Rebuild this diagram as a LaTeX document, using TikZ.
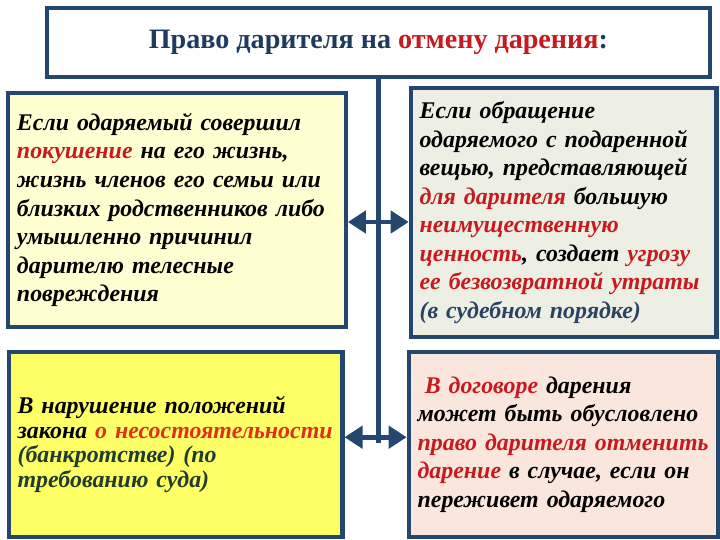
\documentclass[tikz,border=0pt]{standalone}
\usepackage{fontspec}
\setmainfont{Liberation Serif}
\usetikzlibrary{arrows.meta,positioning}
\definecolor{dgBorder}{HTML}{24476F}
\definecolor{dgTitle}{HTML}{1F3A5F}
\definecolor{dgRed}{HTML}{C8191E}
\definecolor{dgOrange}{HTML}{E0301A}
\definecolor{dgBlue}{HTML}{2A4365}
\definecolor{dgGreen}{HTML}{1F3D2C}
\definecolor{dgPale}{HTML}{FFFFD2}
\definecolor{dgGrey}{HTML}{EEEFE4}
\definecolor{dgYellow}{HTML}{FFFF66}
\definecolor{dgPink}{HTML}{FBE6DD}
\newcommand{\redword}[1]{\textcolor{dgRed}{#1}}

\begin{document}
\begin{tikzpicture}[
        box/.style={
            draw=dgBorder,
            line width=3pt,
            align=left,
            inner sep=0.22cm,
            font=\fontsize{17}{20.3}\selectfont\bfseries\itshape
        },
        titlebox/.style={
            draw=dgBorder,
            line width=3pt,
            fill=white,
            minimum width=16.58cm,
            minimum height=1.73cm,
            text=dgTitle,
            font=\fontsize{20}{24}\selectfont\bfseries
        },
        arrow/.style={
            -{Triangle[length=0.45cm,width=0.55cm]},
            line width=3.5pt,
            draw=dgBorder
        },
        trunk/.style={
            line width=3.5pt,
            draw=dgBorder
        }
    ]
    \useasboundingbox (0,0) rectangle (18,-13.5);

    \node[titlebox] (titel) at (9.46,-1.06) {Право дарителя на \redword{отмену дарения}:};

    \node[box, fill=dgPale, minimum height=5.85cm, text width=8.0cm] (lefttop) at (4.425,-5.25)
        {Если одаряемый совершил\\
         \redword{покушение} на его жизнь,\\
         жизнь членов его семьи или\\
         близких родственников либо\\
         умышленно причинил\\
         дарителю телесные\\
         повреждения};

    \node[box, fill=dgGrey, minimum height=6.23cm, text width=7.2cm] (righttop) at (14.09,-5.31)
        {Если обращение\\
         одаряемого с подаренной\\
         вещью, представляющей\\
         \redword{для дарителя} большую\\
         \redword{неимущественную}\\
         \redword{ценность}, создает \redword{угрозу}\\
         \redword{ее безвозвратной утраты}\\
         \textcolor{dgBlue}{(в судебном порядке)}};

    \node[box, fill=dgYellow, minimum height=4.63cm, text width=7.9cm,
          font=\fontsize{17}{17.4}\selectfont\bfseries\itshape] (leftbot) at (4.39,-11.11)
        {В нарушение положений\\
         закона \textcolor{dgOrange}{о несостоятельности}\\
         \textcolor{dgGreen}{(банкротстве) (по}\\
         \textcolor{dgGreen}{требованию суда)}};

    \node[box, fill=dgPink, minimum height=4.63cm, text width=7.3cm] (rightbot) at (14.09,-11.11)
        {\hspace{0.3em}\redword{В договоре} дарения\\
         может быть обусловлено\\
         \redword{право дарителя отменить}\\
         \redword{дарение} в случае, если он\\
         переживет одаряемого};

    \coordinate (jtop) at (titel.south |- 0,-5.55);
    \coordinate (jbot) at (titel.south |- 0,-10.93);
    \coordinate (tend) at (titel.south |- 0,-11.08);

    \draw[trunk] (titel.south) -- (tend);
    \draw[arrow] (jtop) -- (jtop -| lefttop.east);
    \draw[arrow] (jtop) -- (jtop -| righttop.west);
    \draw[arrow] (jbot) -- (jbot -| leftbot.east);
    \draw[arrow] (jbot) -- (jbot -| rightbot.west);

\end{tikzpicture}
\end{document}
